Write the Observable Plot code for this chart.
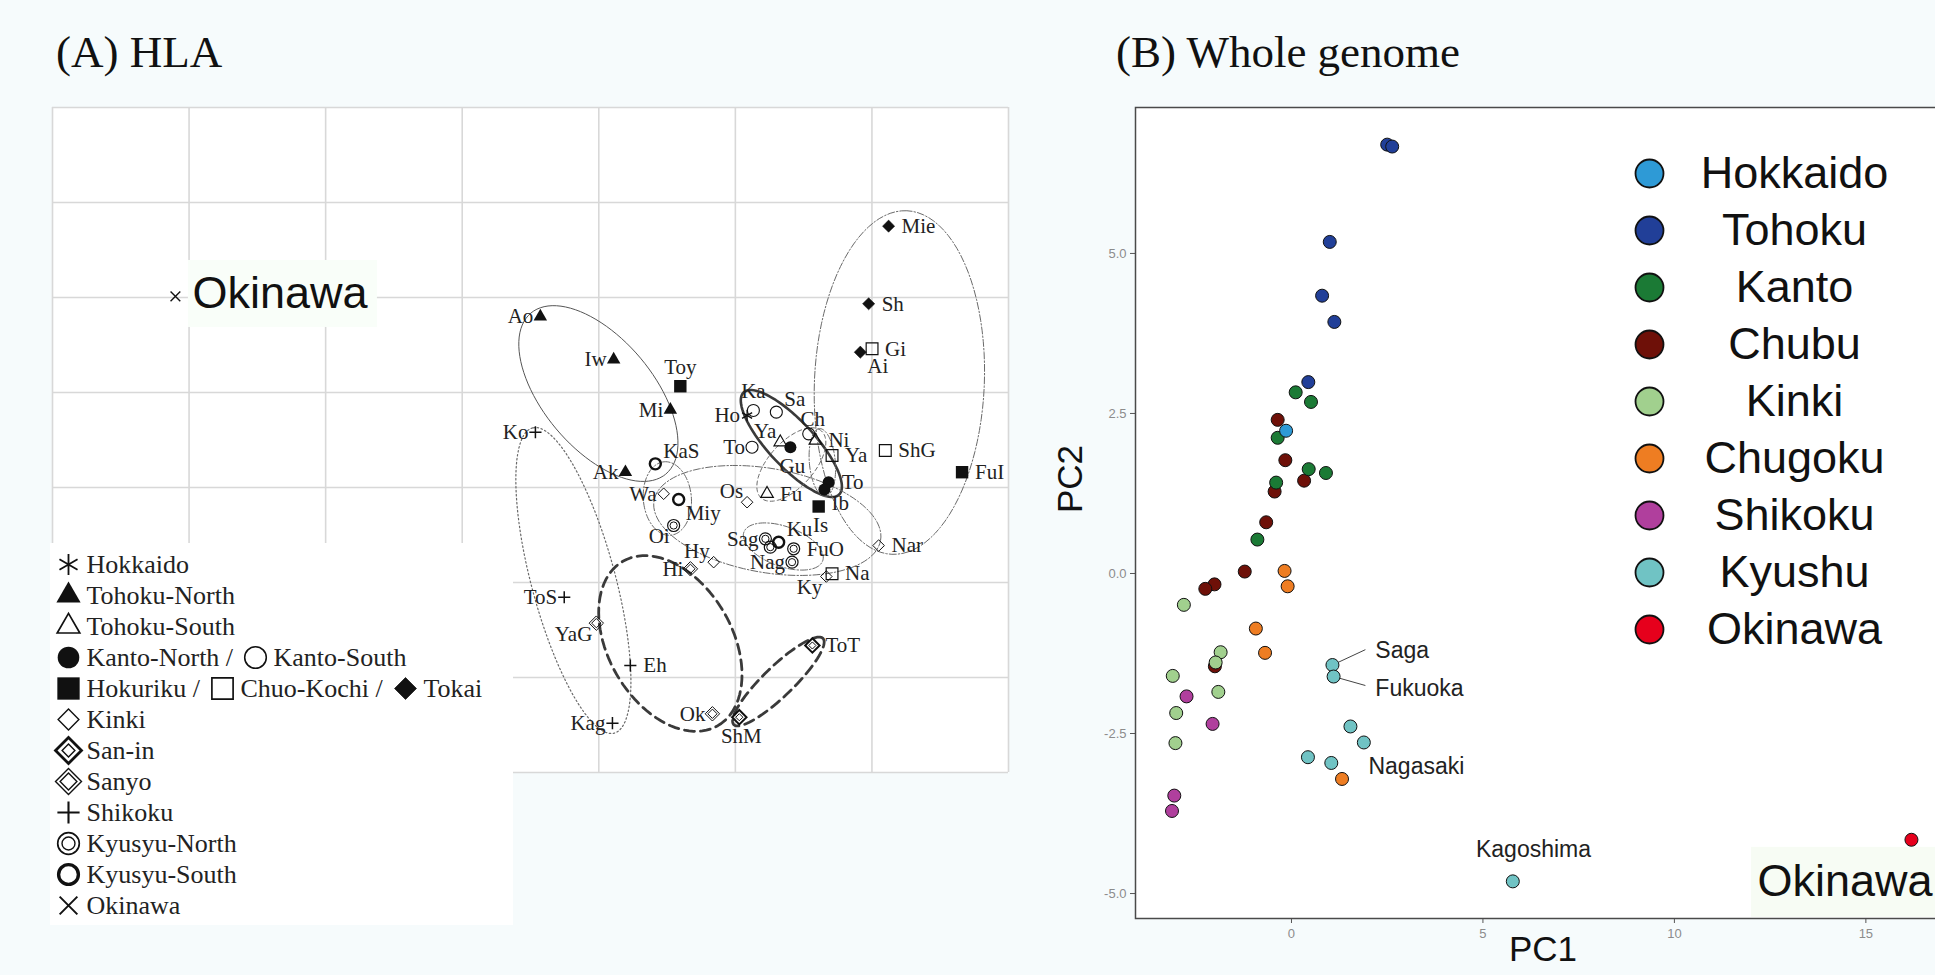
<!DOCTYPE html>
<html><head><meta charset="utf-8">
<script src="https://cdn.jsdelivr.net/npm/d3@7"></script>
<script src="https://cdn.jsdelivr.net/npm/@observablehq/plot@0.6"></script>
<style>
html,body{margin:0;padding:0;}
body{width:1935px;height:975px;overflow:hidden;background:#f6fbfc;position:relative;}
.abs{position:absolute;}
.abs svg{max-width:none !important;}
.title{position:absolute;font-family:"Liberation Serif","Times New Roman",serif;font-size:45px;line-height:45px;color:#111;white-space:nowrap;}
</style></head><body>
<div id="panelA" class="abs" style="left:0;top:0;width:1040px;height:975px"></div>
<div id="legendA" class="abs" style="left:50px;top:543px;width:463px;height:382px;background:#fff"></div>
<div id="panelB" class="abs" style="left:1040px;top:0;width:920px;height:975px"></div>
<div id="legendB" class="abs" style="left:1600px;top:130px;width:335px;height:540px"></div>
<div class="title" style="left:56px;top:30px">(A) HLA</div>
<div class="title" style="left:1116px;top:30px">(B) Whole genome</div>
<script>
// ---------------- Panel A data (HLA) ----------------
const gridTicks = [0, 1, 2, 3, 4, 5, 6, 7];
const hlaName = ["Ho","Ao","Iw","Mi","Ak","Ya","Fu","Ni","Gu","To","Ib","Ka","Sa","Ch","To","Toy","FuI","Is","Gi","Ya","ShG","Na","Mie","Sh","Ai","Os","Nar","Hy","Wa","Ky","ToT","ShM","Ok","Hi","YaG","Ko","ToS","Eh","Kag","Oi","Sag","FuO","Nag","","Ku","Miy","KaS"];
const hlaX = [5.086,3.572,4.109,4.524,4.195,5.329,5.232,5.586,5.403,5.683,5.652,5.132,5.300,5.537,5.122,4.597,6.660,5.610,6.001,5.708,6.098,5.708,6.122,5.976,5.915,5.086,6.049,4.841,4.475,5.666,5.564,5.029,4.832,4.671,3.982,3.536,3.747,4.231,4.100,4.548,5.220,5.427,5.415,5.256,5.317,4.585,4.414];
const hlaY = [3.758,4.800,4.347,3.818,3.161,3.477,2.934,3.495,3.424,3.056,2.979,3.811,3.793,3.565,3.424,4.066,3.161,2.800,4.460,3.337,3.389,2.092,5.751,4.934,4.424,2.845,2.389,2.214,2.934,2.063,1.337,0.582,0.618,2.144,1.572,3.582,1.845,1.126,0.519,2.600,2.460,2.355,2.214,2.372,2.424,2.874,3.249];
const hlaGroup = ["Hokkaido","TohokuN","TohokuN","TohokuN","TohokuN","TohokuS","TohokuS","TohokuS","KantoN","KantoN","KantoN","KantoS","KantoS","KantoS","KantoS","Hokuriku","Hokuriku","Hokuriku","ChuoKochi","ChuoKochi","ChuoKochi","ChuoKochi","Tokai","Tokai","Tokai","Kinki","Kinki","Kinki","Kinki","Kinki","SanIn","SanIn","Sanyo","Sanyo","Sanyo","Shikoku","Shikoku","Shikoku","Shikoku","KyusyuN","KyusyuN","KyusyuN","KyusyuN","KyusyuN","KyusyuS","KyusyuS","KyusyuS"];
const hlaLabelAt = ["l","l","l","l","l","tl","r","r","b","r","br","t","tr","tc","l","t","r","b","r","r","r","r","r","r","br","tl","r","tl","l","bl","r","b","l","l","bl","l","l","r","l","bl","l","r","l","none","tr","br","tr"];
const okinawaA = {name: "Okinawa", x: 0.900, y: 5.011};

// confidence ellipses of panel A (centre, semi-axes in x units, angle in degrees)
const ellCX = [3.997, 6.201, 5.410, 5.234, 5.351, 4.502, 5.410, 5.637, 3.814, 4.524, 5.315];
const ellCY = [3.989, 4.105, 3.463, 2.653, 2.379, 2.884, 3.242, 3.263, 2.021, 1.358, 0.958];
const ellA  = [0.769, 1.259, 0.512, 0.842, 0.307, 0.270, 0.330, 0.249, 1.157, 0.695, 0.454];
const ellB  = [0.403, 0.622, 0.168, 0.381, 0.146, 0.176, 0.165, 0.095, 0.307, 0.454, 0.110];
const ellAngle = [-50, 87.5, -47, -10, -20, 95, 48, 95, 105, -60, 44];
const ellStyle = ["solid","dashdot","thick","dashdot","dashdot","dashdot","dashed","dashdot","dotted","thickdash","thickdash"];

// legend of panel A
const legendALabels = ["Hokkaido","Tohoku-North","Tohoku-South","Kanto-North /","Hokuriku /","Kinki","San-in","Sanyo","Shikoku","Kyusyu-North","Kyusyu-South","Okinawa"];
const legendAKeys = ["Hokkaido","TohokuN","TohokuS","KantoN","Hokuriku","Kinki","SanIn","Sanyo","Shikoku","KyusyuN","KyusyuS","Okinawa"];
const legendAExtraRow = [3, 4, 4];
const legendAExtraKey = ["KantoS", "ChuoKochi", "Tokai"];
const legendAExtraText = ["Kanto-South", "Chuo-Kochi /", "Tokai"];
const legendAExtraOffset = [205, 172, 355];

// ---------------- Panel B data (whole genome PCA) ----------------
const regions = ["Hokkaido","Tohoku","Kanto","Chubu","Kinki","Chugoku","Shikoku","Kyushu","Okinawa"];
const regionColors = ["#2e9ad6","#213f98","#1b7a35","#6e1008","#a1d08e","#ee7d22","#b03f9d","#70c3c4","#e6001c"];
const pcRegion = ["Chubu","Chubu","Chubu","Chubu","Chubu","Chubu","Chubu","Chubu","Chubu",
  "Kanto","Kanto","Kanto","Kanto","Kanto","Kanto","Kanto",
  "Hokkaido",
  "Tohoku","Tohoku","Tohoku","Tohoku","Tohoku","Tohoku",
  "Kinki","Kinki","Kinki","Kinki","Kinki","Kinki","Kinki",
  "Chugoku","Chugoku","Chugoku","Chugoku","Chugoku",
  "Shikoku","Shikoku","Shikoku","Shikoku",
  "Kyushu","Kyushu","Kyushu","Kyushu","Kyushu","Kyushu","Kyushu",
  "Okinawa"];
const pc1 = [-0.36,-0.16,0.33,-0.44,-0.66,-1.22,-2.01,-2.25,-2.00,
  0.11,0.51,-0.36,0.45,0.90,-0.40,-0.89,
  -0.14,
  2.50,2.63,1.00,0.80,1.12,0.44,
  -2.81,-1.85,-1.98,-3.10,-1.91,-3.01,-3.03,
  -0.18,-0.10,-0.93,-0.69,1.32,
  -2.74,-2.06,-3.06,-3.12,
  1.07,1.10,1.54,1.89,0.43,1.04,5.78,
  16.19];
const pc2 = [2.40,1.77,1.45,1.28,0.80,0.03,-0.17,-0.24,-1.45,
  2.83,2.68,2.12,1.63,1.57,1.42,0.53,
  2.23,
  6.70,6.67,5.18,4.34,3.93,2.99,
  -0.49,-1.23,-1.39,-1.60,-1.85,-2.18,-2.65,
  0.04,-0.20,-0.86,-1.24,-3.21,
  -1.92,-2.35,-3.47,-3.71,
  -1.43,-1.61,-2.39,-2.64,-2.87,-2.96,-4.81,
  -4.16];
const pc1Ticks = [0, 5, 10, 15];
const pc2Ticks = [-5, -2.5, 0, 2.5, 5];
const annotLabel = ["Saga","Fukuoka","Nagasaki"];
const annotX = [2.19, 2.19, 2.01];
const annotY = [-1.20, -1.80, -3.02];
const kagoshimaLabel = {label: "Kagoshima", x: 6.32, y: -4.31};
const okinawaLabelB = {label: "Okinawa", x: 12.17, y: -4.81};
const leaderX1 = [1.07, 1.10], leaderY1 = [-1.43, -1.61];
const leaderX2 = [1.93, 1.93], leaderY2 = [-1.19, -1.75];

// ---------------- styles ----------------
const K = "#111";
const SANS = "Liberation Sans, Arial, sans-serif";
const SERIF = "Liberation Serif, Times New Roman, serif";
const symbolStyles = {
  Hokkaido: [{symbol:"asterisk", r:5.5, stroke:K, strokeWidth:1.3}],
  TohokuN:  [{symbol:"triangle", r:5, fill:K}],
  TohokuS:  [{symbol:"triangle2", r:6, stroke:K, strokeWidth:1.2}],
  KantoN:   [{symbol:"circle", r:6, fill:K}],
  KantoS:   [{symbol:"circle", r:6, stroke:K, strokeWidth:1.1}],
  Hokuriku: [{symbol:"square", r:7, fill:K}],
  ChuoKochi:[{symbol:"square2", r:7.5, stroke:K, strokeWidth:1.2}],
  Tokai:    [{symbol:"diamond2", r:5.5, fill:K, stroke:K, strokeWidth:0.5}],
  Kinki:    [{symbol:"diamond2", r:5.2, stroke:K, strokeWidth:1}],
  SanIn:    [{symbol:"diamond2", r:6.5, stroke:K, strokeWidth:2}, {symbol:"diamond2", r:3.2, stroke:K, strokeWidth:1}],
  Sanyo:    [{symbol:"diamond2", r:6.5, stroke:K, strokeWidth:1}, {symbol:"diamond2", r:4.2, stroke:K, strokeWidth:1}],
  Shikoku:  [{symbol:"plus", r:4, stroke:K, strokeWidth:1.5}],
  KyusyuN:  [{symbol:"circle", r:6, stroke:K, strokeWidth:1.2}, {symbol:"circle", r:3.6, stroke:K, strokeWidth:1}],
  KyusyuS:  [{symbol:"circle", r:5.5, stroke:K, strokeWidth:2.4}],
  Okinawa:  [{symbol:"times", r:4.5, stroke:K, strokeWidth:1.4}]
};
function symbolMarks(data, key, channels, scale = 1, swScale = 1) {
  return symbolStyles[key].map(s => Plot.dot(data, {
    ...channels, symbol: s.symbol, r: s.r * scale,
    fill: s.fill ?? "none", stroke: s.stroke ?? "none",
    strokeWidth: (s.strokeWidth ?? 0) * swScale
  }));
}
const lineStyles = {
  solid:     {stroke:"#555", strokeWidth:1},
  thick:     {stroke:"#3a3a3a", strokeWidth:2.6},
  dashdot:   {stroke:"#6a6a6a", strokeWidth:1, strokeDasharray:"7,2,1.5,2"},
  dashed:    {stroke:"#6a6a6a", strokeWidth:1, strokeDasharray:"4,3"},
  dotted:    {stroke:"#6a6a6a", strokeWidth:1.2, strokeDasharray:"1.5,2.5"},
  thickdash: {stroke:"#3a3a3a", strokeWidth:2.8, strokeDasharray:"10,6"}
};
const labelOffsets = {
  r:  {dx:13, dy:0, textAnchor:"start"},
  l:  {dx:-7, dy:0, textAnchor:"end"},
  t:  {dx:0, dy:-19, textAnchor:"middle"},
  tc: {dx:4, dy:-15, textAnchor:"middle"},
  b:  {dx:2, dy:19, textAnchor:"middle"},
  tl: {dx:-4, dy:-11, textAnchor:"end"},
  tr: {dx:8, dy:-13, textAnchor:"start"},
  bl: {dx:-4, dy:11, textAnchor:"end"},
  br: {dx:7, dy:14, textAnchor:"start"}
};

// ---------------- Panel A ----------------
const A_W = 1040, A_H = 975, A_ML = 52, A_MR = 32, A_MT = 107, A_MB = 203;
const kY = ((A_W - A_ML - A_MR) / 7) / ((A_H - A_MT - A_MB) / 7);
const hla = hlaName.map((n, i) => ({name: n, x: hlaX[i], y: hlaY[i], group: hlaGroup[i], at: hlaLabelAt[i]}));
const ellPts = [];
ellCX.forEach((cx, i) => {
  const th = ellAngle[i] * Math.PI / 180;
  for (let j = 0; j < 96; j++) {
    const t = j / 96 * 2 * Math.PI;
    const u = ellA[i] * Math.cos(t), v = ellB[i] * Math.sin(t);
    ellPts.push({id: i, style: ellStyle[i],
      x: cx + (u * Math.cos(th) - v * Math.sin(th)),
      y: ellCY[i] + kY * (u * Math.sin(th) + v * Math.cos(th))});
  }
});
const marksA = [
  Plot.frame({fill: "white", stroke: "none"}),
  Plot.gridX(gridTicks, {stroke: "#d8d8d8", strokeOpacity: 1, strokeWidth: 1.6}),
  Plot.gridY(gridTicks, {stroke: "#d8d8d8", strokeOpacity: 1, strokeWidth: 1.6}),
  Plot.rect([okinawaA], {x1: "x", x2: "x", y1: "y", y2: "y", insetLeft: 13, insetRight: -202, insetTop: -36, insetBottom: -31, fill: "#f9fef9"})
];
Object.keys(lineStyles).forEach(s => {
  const pts = ellPts.filter(p => p.style === s);
  if (pts.length) marksA.push(Plot.line(pts, {x: "x", y: "y", z: "id", curve: "linear-closed", ...lineStyles[s]}));
});
Object.keys(symbolStyles).forEach(key => {
  const data = key === "Okinawa" ? [okinawaA] : hla.filter(d => d.group === key);
  if (data.length) marksA.push(...symbolMarks(data, key, {x: "x", y: "y"}));
});
Object.keys(labelOffsets).forEach(pos => {
  const data = hla.filter(d => d.at === pos);
  marksA.push(Plot.text(data, {x: "x", y: "y", text: "name", ...labelOffsets[pos],
    fontSize: 21, fontFamily: SERIF, fill: "#222"}));
});
marksA.push(Plot.text([okinawaA], {x: "x", y: "y", text: "name", dx: 17, dy: -3, textAnchor: "start",
  fontSize: 45, fontFamily: SANS, fill: "#111"}));

document.getElementById("panelA").append(Plot.plot({
  width: A_W, height: A_H, marginLeft: A_ML, marginRight: A_MR, marginTop: A_MT, marginBottom: A_MB,
  x: {domain: [0, 7], axis: null},
  y: {domain: [0, 7], axis: null},
  style: {background: "transparent", overflow: "visible", maxWidth: "none"},
  marks: marksA
}));

// legend A
const legA = legendALabels.map((label, i) => ({label, key: legendAKeys[i]}));
const legAExtra = legendAExtraRow.map((r, i) => ({label: legendALabels[r], key: legendAExtraKey[i], text: legendAExtraText[i], off: legendAExtraOffset[i]}));
const legAMarks = [
  ...legA.flatMap(d => symbolMarks([d], d.key, {y: "label", frameAnchor: "left", dx: 18}, 1.8, 1.4)),
  Plot.text(legA, {y: "label", text: "label", frameAnchor: "left", dx: 36, textAnchor: "start",
    fontSize: 26, fontFamily: SERIF, fill: "#222"})
];
legAExtra.forEach(d => {
  legAMarks.push(...symbolMarks([d], d.key, {y: "label", frameAnchor: "left", dx: d.off}, 1.8, 1.4));
  legAMarks.push(Plot.text([d], {y: "label", text: "text", frameAnchor: "left", dx: d.off + 18, textAnchor: "start",
    fontSize: 26, fontFamily: SERIF, fill: "#222"}));
});
document.getElementById("legendA").append(Plot.plot({
  width: 463, height: 382, marginLeft: 0, marginRight: 0, marginTop: 17, marginBottom: 17,
  y: {type: "point", domain: legendALabels, padding: 0, axis: null},
  style: {background: "white", overflow: "visible", maxWidth: "none"},
  marks: legAMarks
}));

// ---------------- Panel B ----------------
const pcData = pcRegion.map((r, i) => ({region: r, pc1: pc1[i], pc2: pc2[i]}));
const annot = annotLabel.map((l, i) => ({label: l, x: annotX[i], y: annotY[i]}));
const leaders = leaderX1.map((x, i) => ({x1: x, y1: leaderY1[i], x2: leaderX2[i], y2: leaderY2[i]}));
document.getElementById("panelB").append(Plot.plot({
  width: 920, height: 975, marginLeft: 95, marginRight: 10, marginTop: 107, marginBottom: 57,
  x: {domain: [-4.073, 17.21]},
  y: {domain: [-5.39, 7.28]},
  color: {domain: regions, range: regionColors},
  style: {background: "transparent", fontFamily: SANS, overflow: "visible", maxWidth: "none"},
  marks: [
    Plot.frame({fill: "white", stroke: "none"}),
    Plot.axisX({ticks: pc1Ticks, tickSize: 5, tickPadding: 5, fontSize: 13, fill: "#8c8c8c", stroke: "#555", label: null}),
    Plot.axisY({ticks: pc2Ticks, tickSize: 5, tickPadding: 4, fontSize: 13, fill: "#8c8c8c", stroke: "#555", label: null, tickFormat: d => d.toFixed(1)}),
    Plot.rect([okinawaLabelB], {x1: "x", x2: "x", y1: "y", y2: "y", insetLeft: -6, insetRight: -209, insetTop: -34, insetBottom: -36, fill: "#f7fcf4"}),
    Plot.link(leaders, {x1: "x1", y1: "y1", x2: "x2", y2: "y2", stroke: "#444", strokeWidth: 1}),
    Plot.dot(pcData, {x: "pc1", y: "pc2", fill: "region", r: 6.5, stroke: "#111", strokeWidth: 1}),
    Plot.text(annot, {x: "x", y: "y", text: "label", textAnchor: "start", fontSize: 23, fill: "#222"}),
    Plot.text([kagoshimaLabel], {x: "x", y: "y", text: "label", textAnchor: "middle", fontSize: 23, fill: "#222"}),
    Plot.text([okinawaLabelB], {x: "x", y: "y", text: "label", textAnchor: "start", fontSize: 45, fill: "#111"}),
    Plot.frame({stroke: "#4a4a4a", strokeWidth: 1.5}),
    Plot.text(["PC1"], {text: d => d, frameAnchor: "bottom", dy: 42, fontSize: 35, fill: "#111"}),
    Plot.text(["PC2"], {text: d => d, frameAnchor: "left", dx: -65, rotate: -90, fontSize: 35, fill: "#111"})
  ]
}));

// legend B
document.getElementById("legendB").append(Plot.plot({
  width: 335, height: 540, marginLeft: 0, marginRight: 0, marginTop: 42, marginBottom: 41,
  y: {type: "point", domain: regions, padding: 0, axis: null},
  color: {domain: regions, range: regionColors},
  style: {background: "transparent", overflow: "visible", maxWidth: "none"},
  marks: [
    Plot.dot(regions, {y: d => d, fill: d => d, frameAnchor: "left", dx: 49, r: 14, stroke: "#111", strokeWidth: 1.8}),
    Plot.text(regions, {y: d => d, text: d => d, frameAnchor: "left", dx: 194, textAnchor: "middle",
      fontSize: 45, fontFamily: SANS, fill: "#111"})
  ]
}));
</script>
</body></html>
